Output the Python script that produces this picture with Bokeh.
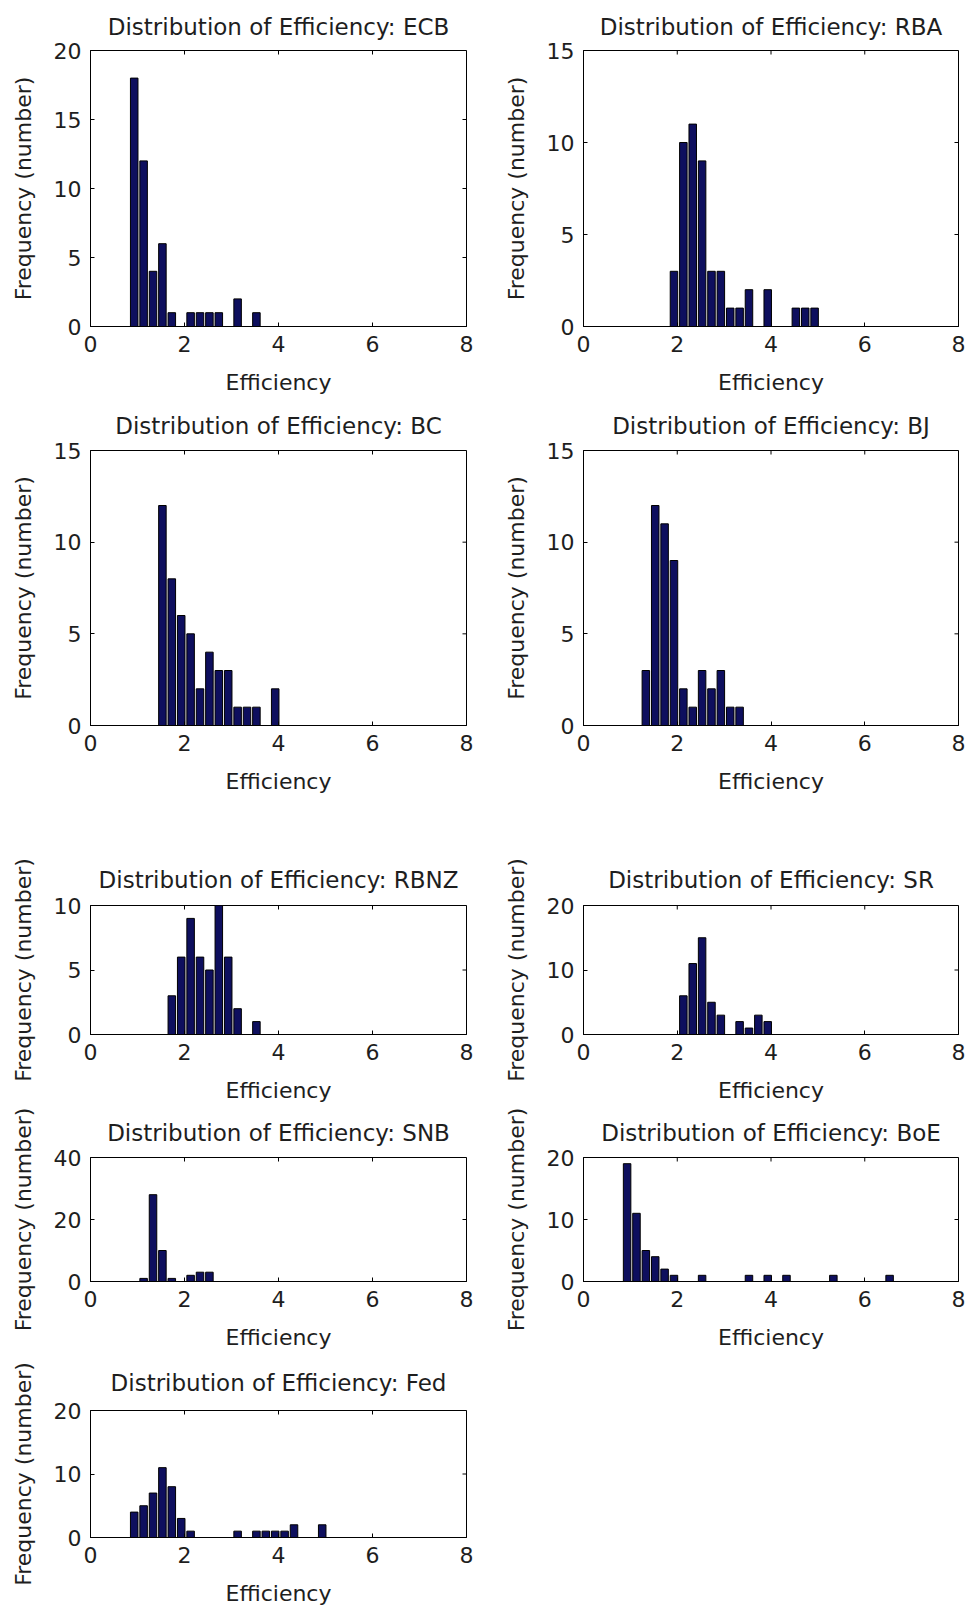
import math
from bokeh.plotting import figure
from bokeh.layouts import column, row
from bokeh.models import FixedTicker, Range1d, ColumnDataSource, Title
from bokeh.embed import file_html
from bokeh.resources import INLINE

# ---------------- data ----------------
ecb_x = [0.93, 1.13, 1.33, 1.53, 1.73, 2.13, 2.33, 2.53, 2.73, 3.13, 3.53]
ecb_n = [18, 12, 4, 6, 1, 1, 1, 1, 1, 2, 1]

rba_x = [1.93, 2.13, 2.33, 2.53, 2.73, 2.93, 3.13, 3.33, 3.53, 3.93, 4.53, 4.73, 4.93]
rba_n = [3, 10, 11, 9, 3, 3, 1, 1, 2, 2, 1, 1, 1]

bc_x = [1.53, 1.73, 1.93, 2.13, 2.33, 2.53, 2.73, 2.93, 3.13, 3.33, 3.53, 3.93]
bc_n = [12, 8, 6, 5, 2, 4, 3, 3, 1, 1, 1, 2]

bj_x = [1.33, 1.53, 1.73, 1.93, 2.13, 2.33, 2.53, 2.73, 2.93, 3.13, 3.33]
bj_n = [3, 12, 11, 9, 2, 1, 3, 2, 3, 1, 1]

rbnz_x = [1.73, 1.93, 2.13, 2.33, 2.53, 2.73, 2.93, 3.13, 3.53]
rbnz_n = [3, 6, 9, 6, 5, 10, 6, 2, 1]

sr_x = [2.13, 2.33, 2.53, 2.73, 2.93, 3.33, 3.53, 3.73, 3.93]
sr_n = [6, 11, 15, 5, 3, 2, 1, 3, 2]

snb_x = [1.13, 1.33, 1.53, 1.73, 2.13, 2.33, 2.53]
snb_n = [1, 28, 10, 1, 2, 3, 3]

boe_x = [0.93, 1.13, 1.33, 1.53, 1.73, 1.93, 2.53, 3.53, 3.93, 4.33, 5.33, 6.53]
boe_n = [19, 11, 5, 4, 2, 1, 1, 1, 1, 1, 1, 1]

fed_x = [0.93, 1.13, 1.33, 1.53, 1.73, 1.93, 2.13, 3.13, 3.53, 3.73, 3.93, 4.13, 4.33, 4.93]
fed_n = [4, 5, 7, 11, 8, 3, 1, 1, 1, 1, 1, 1, 2, 2]

x_ticks = [0, 2, 4, 6, 8]
ecb_yticks = [0, 5, 10, 15, 20]
rba_yticks = [0, 5, 10, 15]
bc_yticks = [0, 5, 10, 15]
bj_yticks = [0, 5, 10, 15]
rbnz_yticks = [0, 5, 10]
sr_yticks = [0, 10, 20]
snb_yticks = [0, 20, 40]
boe_yticks = [0, 10, 20]
fed_yticks = [0, 10, 20]

TITLE_PREFIX = "Distribution of Efficiency: "
X_LABEL = "Efficiency"
Y_LABEL = "Frequency (number)"

# ---------------- style ----------------
FONT = "DejaVu Sans"
FS = "22px"
TFS = "23px"
TXT = "#1e1e1e"
BAR_FILL = "#0e0f5e"
BAR_W = 0.16
TICK = 4


def panel(name, xs, ns, yticks, width, height, bl, br, bt, bb, tstand):
    x0, x1 = x_ticks[0], x_ticks[-1]
    y0, y1 = yticks[0], yticks[-1]
    p = figure(width=width, height=height, output_backend="svg",
               toolbar_location=None, x_range=Range1d(x0, x1),
               y_range=Range1d(y0, y1), title=None,
               min_border_left=bl, min_border_right=br,
               min_border_top=bt, min_border_bottom=bb,
               background_fill_color="white", border_fill_color="white")
    p.outline_line_color = "black"
    p.outline_line_width = 1
    p.xgrid.grid_line_color = None
    p.ygrid.grid_line_color = None

    src = ColumnDataSource(dict(x=xs, n=ns))
    p.vbar(x="x", top="n", bottom=0, width=BAR_W, source=src,
           fill_color=BAR_FILL, line_color="black", line_width=1)

    # mirrored inward ticks on the top and right edges of the box
    p.ray(x=x_ticks, y=[y1] * len(x_ticks), length=TICK, length_units="screen",
          angle=-math.pi / 2, line_color="black", line_width=1)
    p.ray(x=[x1] * len(yticks), y=yticks, length=TICK, length_units="screen",
          angle=math.pi, line_color="black", line_width=1)

    for ax, ticks in ((p.xaxis[0], x_ticks), (p.yaxis[0], yticks)):
        ax.ticker = FixedTicker(ticks=ticks)
        ax.major_tick_in = TICK
        ax.major_tick_out = 0
        ax.minor_tick_line_color = None
        ax.major_tick_line_color = "black"
        ax.axis_line_color = "black"
        ax.major_label_text_font = FONT
        ax.major_label_text_font_size = FS
        ax.major_label_text_color = TXT
        ax.axis_label_text_font = FONT
        ax.axis_label_text_font_size = FS
        ax.axis_label_text_font_style = "normal"
        ax.axis_label_text_color = TXT

    p.xaxis[0].axis_label = X_LABEL
    p.xaxis[0].major_label_standoff = 9
    p.xaxis[0].axis_label_standoff = 15
    p.yaxis[0].axis_label = Y_LABEL
    p.yaxis[0].major_label_standoff = 9
    p.yaxis[0].axis_label_standoff = 15

    t = Title(text=TITLE_PREFIX + name, align="center", text_font=FONT,
              text_font_size=TFS, text_font_style="normal", text_color=TXT,
              standoff=tstand)
    p.add_layout(t, "above")
    return p


WL, WR = 490, 477
LBL, LBR = 90, 24
RBL, RBR = 93, 9

rows_spec = [
    # (height, top border, bottom border, title standoff)
    (397, 50, 71, 21),
    (453, 53, 125, 24),
    (255, 55, 71, 26),
    (247, 52, 65, 23),
    (258, 58, 73, 29),
]


def left(name, xs, ns, yt, r):
    h, t, b, s = rows_spec[r]
    return panel(name, xs, ns, yt, WL, h, LBL, LBR, t, b, s)


def right(name, xs, ns, yt, r):
    h, t, b, s = rows_spec[r]
    return panel(name, xs, ns, yt, WR, h, RBL, RBR, t, b, s)


f1 = left("ECB", ecb_x, ecb_n, ecb_yticks, 0)
f2 = right("RBA", rba_x, rba_n, rba_yticks, 0)
f3 = left("BC", bc_x, bc_n, bc_yticks, 1)
f4 = right("BJ", bj_x, bj_n, bj_yticks, 1)
f5 = left("RBNZ", rbnz_x, rbnz_n, rbnz_yticks, 2)
f6 = right("SR", sr_x, sr_n, sr_yticks, 2)
f7 = left("SNB", snb_x, snb_n, snb_yticks, 3)
f8 = right("BoE", boe_x, boe_n, boe_yticks, 3)
f9 = left("Fed", fed_x, fed_n, fed_yticks, 4)

layout = column(row(f1, f2), row(f3, f4), row(f5, f6), row(f7, f8), row(f9))

open("out.html", "w").write(file_html(layout, INLINE))
